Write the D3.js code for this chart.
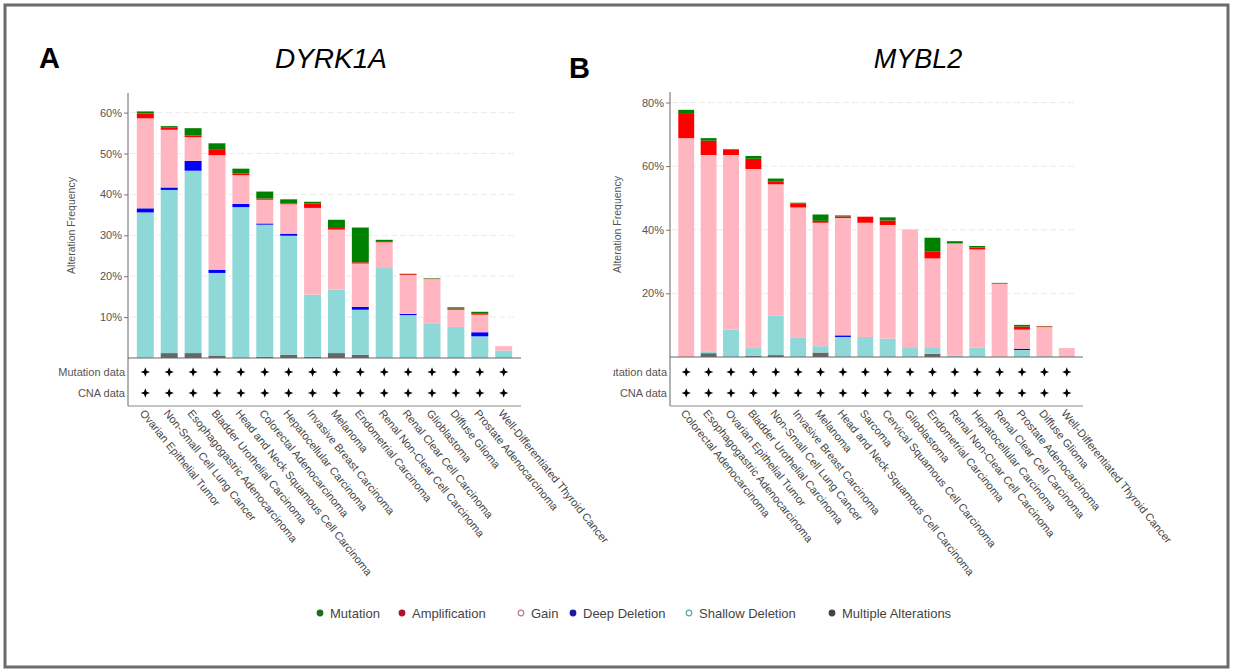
<!DOCTYPE html>
<html>
<head>
<meta charset="utf-8">
<script src="https://cdn.jsdelivr.net/npm/d3@7"></script>
<style>
  body { margin: 0; background: #fff; }
  text { font-family: "Liberation Sans", Arial, sans-serif; }
</style>
</head>
<body>
<div id="fig"></div>
<script>
// stack order, bottom to top
var seriesKeys = ["multiple", "shallow", "deep", "gain", "amp", "mut"];
var seriesColors = {
    multiple: "#666666", shallow: "#8fd8d8", deep: "#0000ff",
    gain: "#ffb6c1", amp: "#ff0000", mut: "#008000"
};

// panel A: DYRK1A
var dyrkCancers = ["Ovarian Epithelial Tumor", "Non-Small Cell Lung Cancer", "Esophagogastric Adenocarcinoma",
    "Bladder Urothelial Carcinoma", "Head and Neck Squamous Cell Carcinoma", "Colorectal Adenocarcinoma",
    "Hepatocellular Carcinoma", "Invasive Breast Carcinoma", "Melanoma", "Endometrial Carcinoma",
    "Renal Non-Clear Cell Carcinoma", "Renal Clear Cell Carcinoma", "Glioblastoma", "Diffuse Glioma",
    "Prostate Adenocarcinoma", "Well-Differentiated Thyroid Cancer"];
var dyrkMultiple = [0, 1.2, 1.2, 0.6, 0.1, 0.3, 0.8, 0.3, 1.2, 0.8, 0, 0, 0, 0, 0, 0];
var dyrkShallow = [35.6, 39.9, 44.6, 20.2, 36.8, 32.3, 29.1, 15.2, 15.5, 11.0, 22.0, 10.5, 8.5, 7.6, 5.3, 1.8];
var dyrkDeep = [1.0, 0.6, 2.4, 0.8, 0.8, 0.3, 0.5, 0, 0, 0.7, 0, 0.3, 0, 0, 1.0, 0];
var dyrkGain = [22.0, 14.1, 5.8, 28.0, 7.0, 5.8, 7.2, 21.2, 14.7, 10.6, 6.3, 9.5, 10.8, 4.2, 4.3, 1.1];
var dyrkAmp = [1.2, 0.5, 0.4, 1.3, 0.4, 0.3, 0.2, 1.1, 0.4, 0.3, 0.1, 0.2, 0.1, 0.3, 0.2, 0];
var dyrkMut = [0.5, 0.4, 1.8, 1.6, 1.2, 1.7, 1.0, 0.4, 2.0, 8.5, 0.5, 0.1, 0.1, 0.3, 0.5, 0];
var dyrkTicks = [10, 20, 30, 40, 50, 60];

// panel B: MYBL2
var myblCancers = ["Colorectal Adenocarcinoma", "Esophagogastric Adenocarcinoma", "Ovarian Epithelial Tumor",
    "Bladder Urothelial Carcinoma", "Non-Small Cell Lung Cancer", "Invasive Breast Carcinoma", "Melanoma",
    "Head and Neck Squamous Cell Carcinoma", "Sarcoma", "Cervical Squamous Cell Carcinoma", "Glioblastoma",
    "Endometrial Carcinoma", "Renal Non-Clear Cell Carcinoma", "Hepatocellular Carcinoma",
    "Renal Clear Cell Carcinoma", "Prostate Adenocarcinoma", "Diffuse Glioma", "Well-Differentiated Thyroid Cancer"];
var myblMultiple = [0, 1.2, 0, 0.4, 0.6, 0, 1.4, 0, 0, 0, 0, 1.0, 0, 0, 0, 0, 0, 0];
var myblShallow = [0, 0.6, 8.6, 2.4, 12.4, 6.0, 2.0, 6.3, 6.3, 5.8, 3.1, 2.1, 0.5, 2.9, 0.1, 2.2, 0.2, 0];
var myblDeep = [0, 0, 0, 0, 0, 0, 0, 0.5, 0, 0, 0, 0, 0, 0, 0, 0.4, 0, 0];
var myblGain = [68.8, 61.7, 54.9, 56.3, 41.3, 41.0, 38.8, 36.9, 35.9, 35.7, 37.0, 27.9, 35.2, 30.9, 22.9, 6.0, 9.2, 2.8];
var myblAmp = [7.6, 4.5, 1.8, 3.2, 0.8, 1.3, 0.6, 0.5, 1.9, 1.4, 0, 2.1, 0, 0.6, 0.1, 1.0, 0.2, 0];
var myblMut = [1.3, 0.8, 0, 0.9, 1.0, 0.2, 2.0, 0.3, 0, 1.0, 0, 4.4, 0.7, 0.5, 0.2, 0.5, 0.1, 0];
var myblTicks = [20, 40, 60, 80];

var legendLabels = ["Mutation", "Amplification", "Gain", "Deep Deletion", "Shallow Deletion", "Multiple Alterations"];
var legendKeys = ["mut", "amp", "gain", "deep", "shallow", "multiple"];
var rowLabels = ["Mutation data", "CNA data"];

var W = 1233, H = 672;
var svg = d3.select("#fig").append("svg").attr("width", W).attr("height", H);

svg.append("rect")
    .attr("x", 5).attr("y", 5).attr("width", W - 10).attr("height", H - 10)
    .attr("fill", "#fff").attr("stroke", "#6b6b6b").attr("stroke-width", 3);

// four pointed star for the mutation/CNA rows
var star = {
    draw: function(ctx, size) {
        var r = Math.sqrt(size), q = r * 0.28;
        ctx.moveTo(0, -r); ctx.lineTo(q, -q); ctx.lineTo(r, 0); ctx.lineTo(q, q);
        ctx.lineTo(0, r); ctx.lineTo(-q, q); ctx.lineTo(-r, 0); ctx.lineTo(-q, -q);
        ctx.closePath();
    }
};

function drawPanel(p) {
    var rows = p.cancers.map(function(c, i) {
        return { cancer: c, multiple: p.multiple[i], shallow: p.shallow[i], deep: p.deep[i],
                 gain: p.gain[i], amp: p.amp[i], mut: p.mut[i] };
    });

    var x = d3.scaleBand().domain(p.cancers).range([p.x0, p.x1])
        .paddingInner(0.29).paddingOuter(0.37);
    var y = d3.scaleLinear().domain([0, p.ymax]).range([p.base, p.top]);

    var g = svg.append("g");

    // grid
    g.selectAll(".grid").data(p.ticks).enter().append("line")
        .attr("x1", p.x0 + 2).attr("x2", p.x1 - 6)
        .attr("y1", function(d) { return y(d); }).attr("y2", function(d) { return y(d); })
        .attr("stroke", "#ebebeb").attr("stroke-dasharray", "6,3");

    var stack = d3.stack().keys(seriesKeys)(rows);
    g.selectAll(".layer").data(stack).enter().append("g")
        .attr("fill", function(d) { return seriesColors[d.key]; })
      .selectAll("rect").data(function(d) { return d; }).enter().append("rect")
        .attr("x", function(d) { return x(d.data.cancer); })
        .attr("width", x.bandwidth())
        .attr("y", function(d) { return y(d[1]); })
        .attr("height", function(d) { return y(d[0]) - y(d[1]); });

    var yAxis = d3.axisLeft(y).tickValues(p.ticks).tickSize(4).tickPadding(2)
        .tickFormat(function(d) { return d + "%"; });
    var ya = g.append("g").attr("transform", "translate(" + p.x0 + ",0)").call(yAxis);
    ya.select(".domain").remove();
    ya.selectAll("line").attr("stroke", "#777");
    ya.selectAll("text").attr("fill", "#555").style("font-size", "11px");

    // axis + table frame
    g.append("line").attr("x1", p.x0).attr("x2", p.x0).attr("y1", p.top).attr("y2", 406)
        .attr("stroke", "#666");
    g.append("line").attr("x1", p.x0).attr("x2", p.x1).attr("y1", p.base).attr("y2", p.base)
        .attr("stroke", "#666");
    g.append("line").attr("x1", p.x0).attr("x2", p.x1).attr("y1", 406).attr("y2", 406)
        .attr("stroke", "#888");

    g.append("text")
        .attr("transform", "translate(" + p.labelX + "," + ((p.top + p.base) / 2) + ") rotate(-90)")
        .attr("text-anchor", "middle").attr("fill", "#555").style("font-size", "10.5px")
        .text("Alteration Frequency");

    var rowY = [372, 393];
    var lab = g.append("g");
    if (p.clipX) {
        svg.append("clipPath").attr("id", "clip" + p.id).append("rect")
            .attr("x", p.clipX).attr("y", 360).attr("width", 200).attr("height", 50);
        lab.attr("clip-path", "url(#clip" + p.id + ")");
    }
    lab.selectAll("text").data(rowLabels).enter().append("text")
        .attr("x", p.x0 - 3).attr("y", function(d, i) { return rowY[i]; })
        .attr("dy", "0.35em").attr("text-anchor", "end").attr("fill", "#555")
        .style("font-size", "11px").text(function(d) { return d; });

    rowY.forEach(function(ry) {
        g.selectAll(".s" + ry).data(p.cancers).enter().append("path")
            .attr("d", d3.symbol().type(star).size(22))
            .attr("fill", "#000")
            .attr("transform", function(d) {
                return "translate(" + (x(d) + x.bandwidth() / 2) + "," + ry + ")";
            });
    });

    g.selectAll(".xl").data(p.cancers).enter().append("text")
        .attr("transform", function(d) {
            return "translate(" + (x(d) + x.bandwidth() / 2 - 3) + ",411) rotate(51)";
        })
        .attr("dy", "0.35em").attr("fill", "#444").style("font-size", "11px")
        .text(function(d) { return d; });

    svg.append("text").attr("x", p.letterX).attr("y", p.letterY)
        .attr("font-weight", "bold").style("font-size", "29px").attr("fill", "#000")
        .text(p.letter);
    svg.append("text").attr("x", p.titleX).attr("y", 68)
        .attr("text-anchor", "middle").attr("font-style", "italic")
        .style("font-size", p.titleSize).attr("fill", "#000").text(p.title);
}

drawPanel({
    id: "A", letter: "A", letterX: 39, letterY: 68, title: "DYRK1A", titleX: 331, titleSize: "28px",
    cancers: dyrkCancers, multiple: dyrkMultiple, shallow: dyrkShallow, deep: dyrkDeep,
    gain: dyrkGain, amp: dyrkAmp, mut: dyrkMut, ticks: dyrkTicks,
    x0: 128, x1: 521, base: 358, top: 93, ymax: 64.8, labelX: 75
});

drawPanel({
    id: "B", letter: "B", letterX: 569, letterY: 78, title: "MYBL2", titleX: 918, titleSize: "27px",
    cancers: myblCancers, multiple: myblMultiple, shallow: myblShallow, deep: myblDeep,
    gain: myblGain, amp: myblAmp, mut: myblMut, ticks: myblTicks,
    x0: 670, x1: 1083, base: 357, top: 92, ymax: 83.3, labelX: 621, clipX: 613
});

// legend
var legendX = [320, 402, 521, 573, 689, 832];
var legendFill = { mut: "#1e6b1e", amp: "#b0102a", gain: "none", deep: "#1a1aa8", shallow: "none", multiple: "#444" };
var legendStroke = { mut: "#1e6b1e", amp: "#b0102a", gain: "#b77b8a", deep: "#1a1aa8", shallow: "#5aa5a5", multiple: "#444" };
var lg = svg.append("g");
legendKeys.forEach(function(k, i) {
    lg.append("circle").attr("cx", legendX[i]).attr("cy", 613).attr("r", 2.8)
        .attr("fill", legendFill[k]).attr("stroke", legendStroke[k]).attr("stroke-width", 1.2);
    lg.append("text").attr("x", legendX[i] + 10).attr("y", 613).attr("dy", "0.35em")
        .attr("fill", "#444").style("font-size", "13px").text(legendLabels[i]);
});
</script>
</body>
</html>
